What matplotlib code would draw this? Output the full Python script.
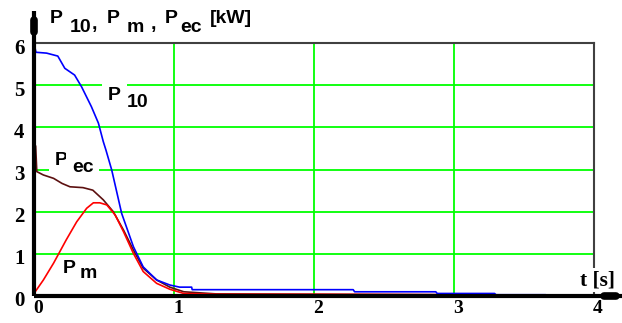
import matplotlib
matplotlib.use("Agg")
import matplotlib.pyplot as plt
from matplotlib.transforms import ScaledTranslation

# Time samples [s] and power curves [kW]
t_p10 = [0.0, 0.014, 0.09, 0.17, 0.22, 0.29, 0.34, 0.41, 0.46, 0.495, 0.514,
         0.555, 0.626, 0.71, 0.78, 0.876, 0.971, 1.04, 1.126, 1.13, 2.28, 2.29,
         2.87, 2.88, 3.29, 3.30, 3.65]
p10 = [6.0, 5.78, 5.76, 5.69, 5.40, 5.24, 4.96, 4.49, 4.10, 3.66, 3.46,
       2.99, 1.96, 1.17, 0.69, 0.38, 0.26, 0.21, 0.21, 0.15, 0.15, 0.10,
       0.10, 0.06, 0.06, 0.03, 0.03]

t_pm = [0.0, 0.067, 0.14, 0.23, 0.305, 0.376, 0.424, 0.47, 0.52, 0.58, 0.64,
        0.71, 0.78, 0.876, 0.97, 1.07, 1.3, 2.0, 3.04]
pm = [0.06, 0.38, 0.78, 1.33, 1.76, 2.08, 2.21, 2.21, 2.16, 1.92, 1.52,
      1.01, 0.58, 0.30, 0.16, 0.06, 0.04, 0.04, 0.03]

t_pec = [0.012, 0.02, 0.067, 0.14, 0.2, 0.257, 0.35, 0.42, 0.495, 0.566, 0.64,
         0.71, 0.78, 0.876, 0.97, 1.07, 1.3, 2.0, 3.0, 3.2]
pec = [3.55, 2.95, 2.87, 2.79, 2.67, 2.59, 2.57, 2.51, 2.28, 2.0, 1.56,
       1.09, 0.66, 0.38, 0.21, 0.10, 0.05, 0.04, 0.03, 0.02]

x_ticks = [0, 1, 2, 3, 4]
y_ticks = [0, 1, 2, 3, 4, 5, 6]

W, H = 622, 323
fig = plt.figure(figsize=(W / 100, H / 100), dpi=100)
ax = fig.add_axes([34 / W, 27 / H, 560 / W, 253 / H])
ax.set_xlim(0, 4)
ax.set_ylim(0, 6)

# grid
ax.set_xticks(x_ticks)
ax.set_yticks(y_ticks)
ax.grid(True, color="#00ff00", lw=1.3, zorder=0)
ax.set_axisbelow(True)

# curves
ax.plot(t_pec, pec, color="#5c1010", lw=1.2, zorder=3)
ax.plot(t_pm, pm, color="#ff0000", lw=1.2, zorder=3)
ax.plot(t_p10, p10, color="#0000ff", lw=1.2, zorder=4)

# frame
for s in ("top", "right"):
    ax.spines[s].set_color("#404040")
    ax.spines[s].set_linewidth(1.5)
for s in ("left", "bottom"):
    ax.spines[s].set_visible(False)

# axes with arrows extending past the frame
ax.plot([0, 0], [0, 6.75], color="black", lw=3, clip_on=False, zorder=6,
        solid_capstyle="butt")
ax.plot([0, 0], [6.25, 6.55], color="black", lw=5.5, clip_on=False, zorder=6,
        solid_capstyle="round")
ax.plot([0, 4.2], [0, 0], color="black", lw=3, clip_on=False, zorder=6,
        solid_capstyle="butt")
ax.plot([4.07, 4.16], [0, 0], color="black", lw=5.5, clip_on=False, zorder=6,
        solid_capstyle="round")

# tick labels
serif = dict(family="Liberation Serif", weight="bold")
ax.tick_params(axis="y", length=0, pad=7)
ax.tick_params(axis="x", length=0, pad=3)
ax.set_xticklabels([str(v) for v in x_ticks], size=14, **serif)
ax.set_yticklabels([str(v) for v in y_ticks], size=15, **serif)
for lab in ax.get_xticklabels():
    lab.set_transform(lab.get_transform() + ScaledTranslation(0.04, 0, fig.dpi_scale_trans))
for lab in ax.get_yticklabels():
    lab.set_transform(lab.get_transform() + ScaledTranslation(0, -0.03, fig.dpi_scale_trans))

# curve labels
sans = dict(family="Liberation Sans", weight="bold", size=14, va="baseline",
            ha="left", zorder=7)
box = dict(facecolor="white", edgecolor="none", boxstyle="square,pad=0.3")
ax.text(0.529, 4.65, "P", bbox=box, **sans)
ax.text(0.664, 4.48, "10", bbox=box, **sans)
ax.text(0.15, 3.11, "P", bbox=box, **sans)
ax.text(0.271, 2.94, "ec", bbox=box, **sans)
ax.text(0.207, 0.545, "P", **sans)
ax.text(0.329, 0.427, "m", **sans)

# axis titles
title_parts = [
    (0.114, 6.47, "P"), (0.257, 6.26, "10"), (0.41, 6.33, ","),
    (0.521, 6.47, "P"), (0.664, 6.26, "m"), (0.835, 6.33, ","),
    (0.936, 6.47, "P"), (1.043, 6.26, "ec"), (1.257, 6.47, "[kW]"),
]
for x, y, s in title_parts:
    ax.text(x, y, s, clip_on=False, **sans)

ax.text(3.9, 0.26, "t [s]", family="Liberation Serif", weight="bold", size=15.5,
        va="baseline", ha="left", zorder=7,
        bbox=dict(facecolor="white", edgecolor="none", boxstyle="square,pad=0.1"))

fig.savefig("out.png", dpi=100)
